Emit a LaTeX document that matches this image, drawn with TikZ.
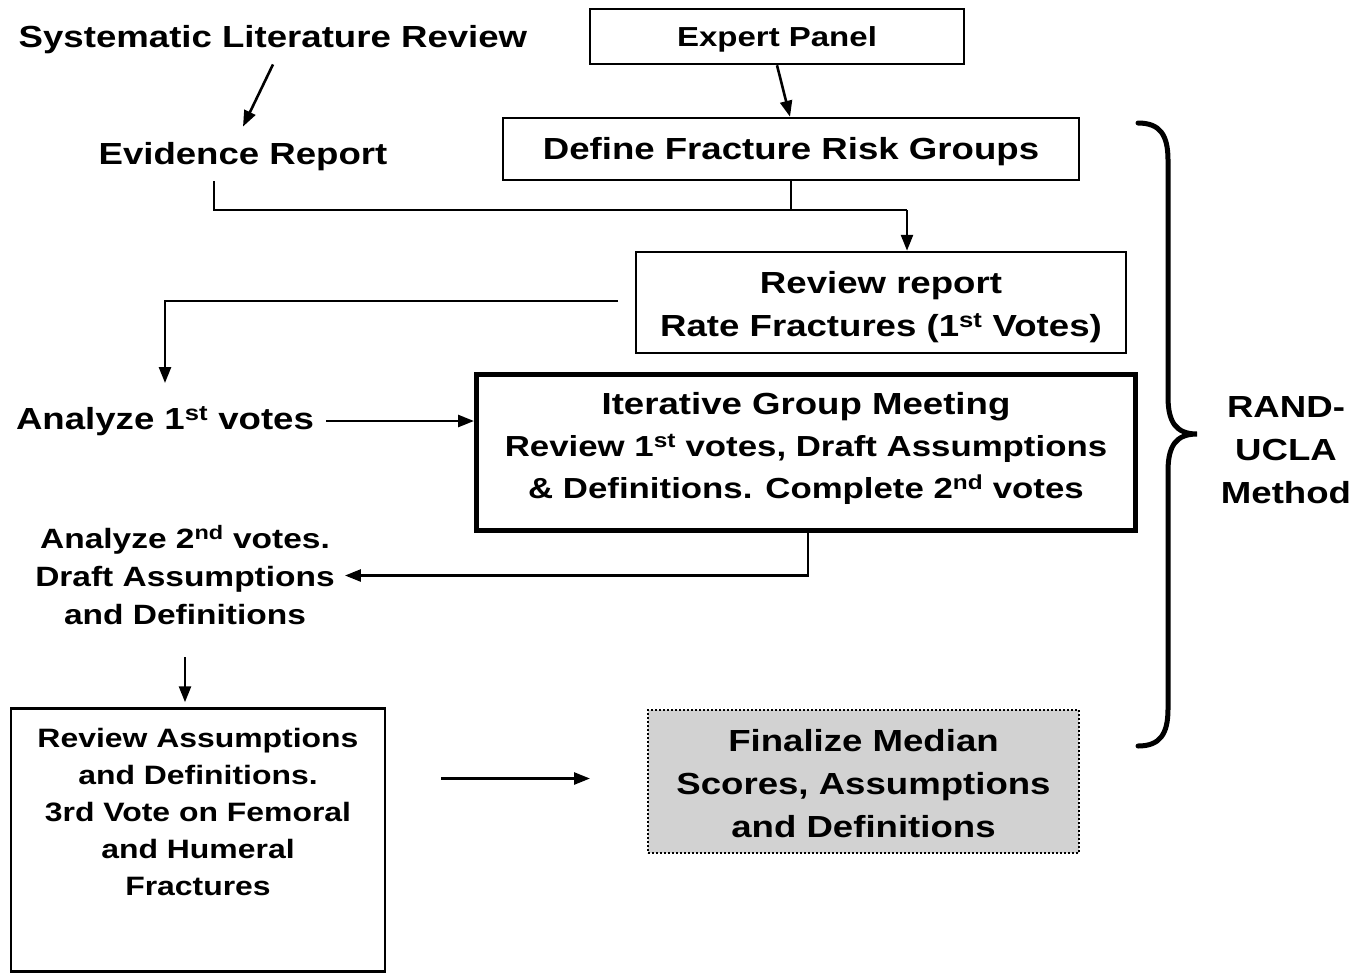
\documentclass[tikz,border=0pt]{standalone}
\usepackage{fontspec}
\setmainfont{Liberation Sans}[FakeStretch=1.2]
\usetikzlibrary{arrows.meta,calc}
\definecolor{fingray}{RGB}{210,210,210}
\begin{document}
\begin{tikzpicture}[x=1pt,y=-1pt,
  bigtxt/.style={font=\fontsize{30.5}{43}\selectfont\bfseries, align=center, inner sep=0pt},
  ittxt/.style={font=\fontsize{29}{42}\selectfont\bfseries, align=center, inner sep=0pt},
  smalltxt/.style={font=\fontsize{27.9}{38}\selectfont\bfseries, align=center, inner sep=0pt},
  ratxt/.style={font=\fontsize{26.6}{37}\selectfont\bfseries, align=center, inner sep=0pt},
  boxed/.style={draw, line width=2.5pt},
  conn/.style={line width=2.6pt},
  arr/.style={conn, -{Triangle[length=16pt,width=12pt]}},
]
\useasboundingbox[fill=white] (0,0) rectangle (1372,975);

\node[bigtxt] (slr) at (273,40) {Systematic Literature Review};
\node[boxed, minimum width=374, minimum height=55, inner sep=0pt,
      text height=26pt, text depth=5.8pt,
      font=\fontsize{27.5}{33}\selectfont\bfseries] (ep) at (777,36.5) {Expert Panel};
\node[bigtxt] (ev) at (243,157) {Evidence Report};
\node[boxed, bigtxt, minimum width=576, minimum height=62,
      text height=28.3pt, text depth=6.4pt] (def) at (791,149) {Define Fracture Risk Groups};
\node[boxed, bigtxt, minimum width=490, minimum height=101] (rr) at (881,302.5)
  {\rule{0pt}{32pt}Review report\\Rate Fractures (1\textsuperscript{st} Votes)};
\node[bigtxt] (a1) at (165,421) {Analyze 1\textsuperscript{st} votes};
\node[draw, line width=5pt, ittxt, minimum width=659, minimum height=156] (it) at (806,452.5)
  {{\fontsize{30.5}{42}\selectfont Iterative Group Meeting}\\Review 1\textsuperscript{st} votes, Draft Assumptions\\\& Definitions. Complete 2\textsuperscript{nd} votes\rule[-15pt]{0pt}{0pt}};
\node[smalltxt] (a2) at (185,575.5) {Analyze 2\textsuperscript{nd} votes.\\Draft Assumptions\\and Definitions};
\node[boxed, ratxt, minimum width=374, minimum height=263] (ra) at (198,840)
  {Review Assumptions\\and Definitions.\\3rd Vote on Femoral\\and Humeral\\Fractures\rule[-56pt]{0pt}{0pt}};
\node[draw, dash pattern=on 2pt off 2pt, line width=2pt, fill=fingray, bigtxt,
      minimum width=431, minimum height=143] (fin) at (863.5,781.5)
  {\rule{0pt}{26pt}Finalize Median\\Scores, Assumptions\\and Definitions};
\node[bigtxt] (rand) at (1286,450) {RAND-\\UCLA\\Method};

% connectors
\draw[arr] ($(slr.south)+(0,10)$) -- ($(ev.north)+(0,-16)$);
\draw[arr] (ep.south) -- ($(def.north)+(-1,0)$);
\coordinate (evj) at (214,181);
\coordinate (jr) at (907,210);
\draw[conn] (evj) |- (jr);
\draw[conn] (def.south) -- (def.south |- jr);
\draw[arr] (jr) -- (jr |- rr.north);
\coordinate (rrl) at (618,301);
\coordinate (a1in) at (165,383);
\draw[arr] (rrl) -| (a1in);
\draw[arr] ($(a1.east)+(12,0)$) -- (it.west |- a1.east);
\draw[arr] ($(it.south)+(2,0)$) |- ($(a2.east)+(10,0)$);
\draw[arr] ($(a2.south)+(0,32)$) -- ($(a2.south |- ra.north)+(0,-5)$);
\draw[arr] ($(ra.east |- fin.west)+(55,-3)$) -- ($(fin.west)+(-57,-3)$);

% brace
\draw[line width=5pt, line cap=round]
  (1138,123) .. controls (1160,123) and (1168,135) .. (1168,160)
  -- (1168,397) .. controls (1168,422) and (1176,434) .. (1197,434)
  .. controls (1176,434) and (1168,446) .. (1168,471)
  -- (1168,709) .. controls (1168,734) and (1160,746) .. (1138,746);
\end{tikzpicture}
\end{document}
